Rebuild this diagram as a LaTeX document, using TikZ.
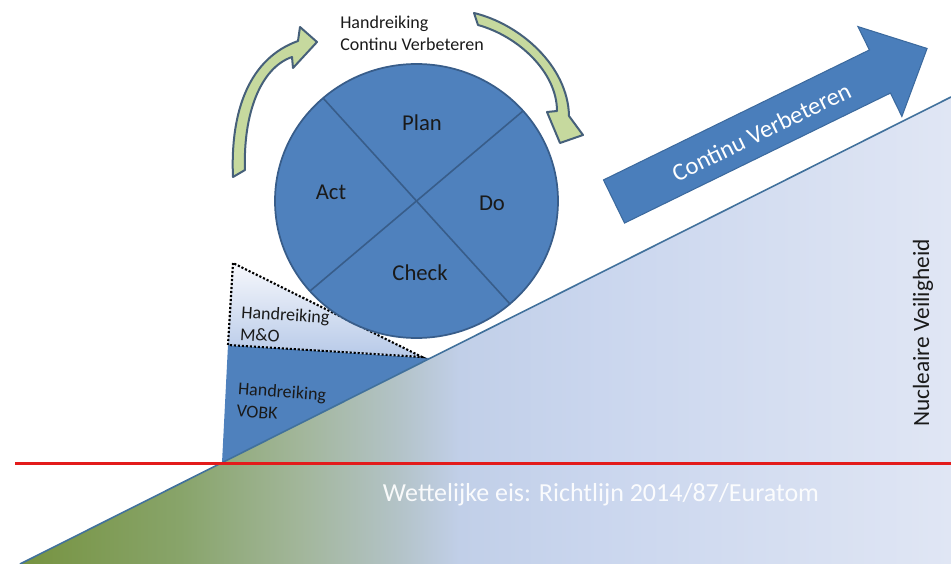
\documentclass[tikz,border=0pt]{standalone}
\usepackage{fontspec}
\setmainfont{Carlito}
% palette
\definecolor{pdcablue}{HTML}{4F81BD}
\definecolor{pdcaedge}{HTML}{385D8A}
\definecolor{shaftblue}{HTML}{4A7EBB}
\definecolor{shaftedge}{HTML}{3C6A9E}
\definecolor{cyclegreen}{HTML}{C6D99E}
\definecolor{cycleedge}{HTML}{46607A}
\definecolor{slopeA}{HTML}{769340}
\definecolor{slopeB}{HTML}{88A46A}
\definecolor{slopeC}{HTML}{A2B69A}
\definecolor{slopeD}{HTML}{B3C3C8}
\definecolor{slopeE}{HTML}{C1CFE8}
\definecolor{slopeF}{HTML}{CAD6EE}
\definecolor{slopeG}{HTML}{E0E6F4}
\definecolor{slopeedge}{HTML}{41719C}
\definecolor{limitred}{HTML}{E31B1B}
\definecolor{inkdark}{HTML}{1A1A1A}
\definecolor{guidetop}{HTML}{F6F8FC}
\definecolor{guidebottom}{HTML}{B7C9E8}
% horizontal ramp for the slope: the middle 25bp..75bp spans the filled area
\pgfdeclarehorizontalshading{sloperamp}{100bp}{%
  color(0bp)=(slopeA); color(25bp)=(slopeA); color(33.6bp)=(slopeB);
  color(40bp)=(slopeC); color(45.4bp)=(slopeD); color(48.6bp)=(slopeE);
  color(56.2bp)=(slopeF); color(75bp)=(slopeG); color(100bp)=(slopeG)}
\begin{document}
\begin{tikzpicture}[x=0.75pt,y=-0.75pt]
  \tikzset{
    phase/.style={font=\fontsize{17}{20}\selectfont, text=inkdark, inner sep=0pt},
    note/.style={font=\fontsize{13.5}{16.5}\selectfont, text=inkdark, align=left, inner sep=0pt},
    cyclearrow/.style={fill=cyclegreen, draw=cycleedge, line width=1.5pt, line join=round},
    bigarrow/.style={fill=shaftblue, draw=shaftedge, line width=0.8pt, line join=miter},
  }

  \useasboundingbox (0,0) rectangle (951,564);

  % rising slope
  \coordinate (slopeBL) at (20,564);
  \coordinate (slopeTR) at (951,97);
  \coordinate (slopeBR) at (951,564);
  \shade[shading=sloperamp] (slopeBL) -- (slopeTR) -- (slopeBR) -- cycle;

  % VOBK wedge resting on the slope
  \coordinate (vobkTL) at (228,345);
  \coordinate (vobkTR) at (430,358);
  \coordinate (vobkB) at (222,463);
  \fill[pdcablue] (vobkTL) -- (vobkTR) -- (vobkB) -- cycle;

  \draw[slopeedge, line width=1.2pt] (slopeBL) -- (slopeTR);

  % M&O wedge (dotted)
  \coordinate (moT) at (233,263);
  \coordinate (moR) at (422,357);
  \shade[top color=guidetop, bottom color=guidebottom]
    (moT) -- (vobkTL) -- (moR) -- cycle;
  \draw[black, line width=1.6pt, dash pattern=on 1.6pt off 1.4pt]
    (moT) -- (vobkTL) -- (moR) -- cycle;

  % PDCA wheel
  \coordinate (wheel) at (416.5,201);
  \fill[pdcablue] (wheel) ellipse [x radius=141.5, y radius=137];
  \coordinate (crossA1) at (323,98);
  \coordinate (crossA2) at (510,304);
  \coordinate (crossB1) at (523,111);
  \coordinate (crossB2) at (310,291);
  \draw[pdcaedge, line width=1.2pt] (crossA1) -- (crossA2);
  \draw[pdcaedge, line width=1.2pt] (crossB1) -- (crossB2);
  \draw[pdcaedge, line width=1.3pt] (wheel) ellipse [x radius=141.5, y radius=137];

  \node[phase] (plan)  at (422,123) {Plan};
  \node[phase] (act)   at (331,192) {Act};
  \node[phase] (do)    at (492,203) {Do};
  \node[phase] (check) at (420,273) {Check};

  % curved cycle arrows around the wheel
  \draw[cyclearrow] (233,177) .. controls (230,110) and (250,58) .. (298,41)
    -- (300,27) -- (317,42) -- (293,68) -- (292,57)
    .. controls (260,68) and (243,115) .. (245,170) -- cycle;
  \draw[cyclearrow] (474,13) .. controls (520,24) and (568,66) .. (569,116)
    -- (583,135) -- (560,143) -- (547,112) -- (557,111)
    .. controls (557,72) and (518,36) .. (478,25) -- cycle;

  \node[note, anchor=base west] (cycleguide) at (340,50.7)
    {Handreiking\\Continu Verbeteren};

  % improvement arrow
  \begin{scope}[shift={(614,201.5)}, rotate=26.05]
    \draw[bigarrow] (0,-24) -- (296,-24) -- (296,-50) -- (348.5,0)
      -- (296,50) -- (296,24) -- (0,24) -- cycle;
    \node[transform shape, inner sep=0pt, text=white,
          font=\fontsize{18.4}{22}\selectfont] (improve) at (163,2)
      {Continu Verbeteren};
  \end{scope}

  % legal minimum
  \coordinate (limitL) at (15,463.5);
  \coordinate (limitR) at (951,463.5);
  \draw[limitred, line width=2.4pt] (limitL) -- (limitR);

  % wedge and axis labels
  \node[note, anchor=base west, rotate=-3.5] (moguide) at (239.5,340)
    {Handreiking\\M\&O};
  \node[note, anchor=base west, rotate=-4] (vobkguide) at (236,416.5)
    {Handreiking\\VOBK};
  \node[inner sep=0pt, text=white, opacity=0.92,
        font=\fontsize{19.5}{23}\selectfont] (legal) at (601,495)
    {Wettelijke eis: Richtlijn 2014/87/Euratom};
  \node[inner sep=0pt, text=inkdark, rotate=90,
        font=\fontsize{17.5}{20}\selectfont] (safety) at (923,333)
    {Nucleaire Veiligheid};
\end{tikzpicture}
\end{document}
